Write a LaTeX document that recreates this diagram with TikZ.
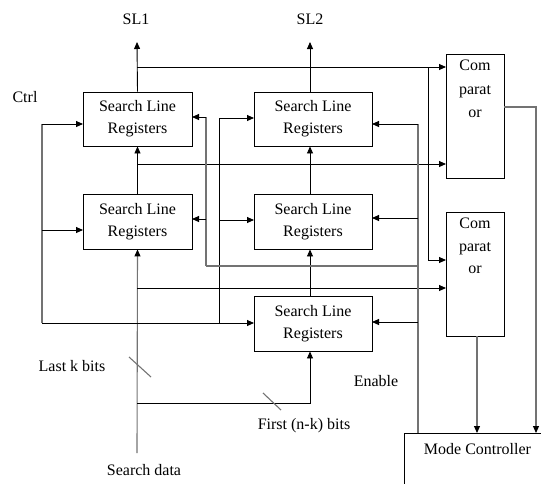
\documentclass[tikz,border=0pt]{standalone}
\usepackage{fontspec}
\setmainfont{Liberation Serif}
\usetikzlibrary{arrows.meta}
\begin{document}
\begin{tikzpicture}[x=1pt,y=-1pt,
  font=\fontsize{16}{22}\selectfont,
  reg/.style={draw,line width=0.9pt,minimum height=54pt,align=center,inner sep=0pt},
  cmpbox/.style={draw,line width=0.9pt,minimum width=58pt,minimum height=124pt,inner sep=0pt},
  ln/.style={line width=0.9pt},
  gln/.style={line width=1.1pt,black!55},
  arr/.style={line width=0.9pt,-{Triangle[length=7pt,width=6pt]}},
  garr/.style={line width=1.1pt,black!55,-{Triangle[length=7pt,width=6pt,fill=black,color=black]}},
  lbl/.style={inner sep=0pt}]
\useasboundingbox (0,0) rectangle (541,483);

% registers
\node[reg,minimum width=109pt] (r1) at (137.5,119) {Search Line\\Registers};
\node[reg,minimum width=118pt] (r2) at (313,119) {Search Line\\Registers};
\node[reg,minimum width=109pt,minimum height=55pt] (r3) at (137.5,221.5) {Search Line\\Registers};
\node[reg,minimum width=118pt,minimum height=55pt] (r4) at (313,221.5) {Search Line\\Registers};
\node[reg,minimum width=118pt,minimum height=55pt] (r5) at (313,323.5) {Search Line\\Registers};

% comparators
\node[cmpbox,anchor=north west] (c1) at (446,54) {};
\node[cmpbox,anchor=north west] (c2) at (446,212) {};
\node[lbl,align=center,anchor=north,font=\fontsize{16}{23.5}\selectfont] (c1t) at (475,60) {Com\\parat\\or};
\node[lbl,align=center,anchor=north,font=\fontsize{16}{22.5}\selectfont] (c2t) at (475,218) {Com\\parat\\or};

% mode controller (runs off the page)
\node[draw,line width=0.9pt,anchor=north west,minimum width=160pt,minimum height=70pt] (mc) at (404,433) {};
\node[lbl] (mct) at (477.5,449) {Mode Controller};

% labels
\node[lbl] (sl1) at (136,19) {SL1};
\node[lbl] (sl2) at (310,19) {SL2};
\node[lbl] (ctrl) at (25,97) {Ctrl};
\node[lbl] (lastk) at (72,366) {Last k bits};
\node[lbl] (first) at (304,426) {First (n-k) bits};
\node[lbl] (enable) at (376,381) {Enable};
\node[lbl] (sdata) at (144,470) {Search data};

% coordinates
\coordinate (t1) at (137,42);
\coordinate (t2) at (310,42);
\coordinate (j1) at (137,67);
\coordinate (k1) at (428,67);
\coordinate (k2) at (446,260);
\coordinate (s0) at (137,453);

% SL outputs
\draw[arr] (r1.north) -- (t1);
\draw[arr] (r2.north -| t2) -- (t2);
\draw[arr] (j1) -- (j1 -| c1.west);
\draw[arr] (k1) |- (k2);

% vertical chains
\draw[arr] (r3.north) -- (r1.south);
\draw[arr] (137,164) -- (446,164);
\draw[arr] (r4.north -| t2) -- (r2.south -| t2);
\draw[arr] (r5.north -| t2) -- (r4.south -| t2);

% search data
\draw[garr] (s0) -- (r3.south);
\draw[arr] (137,288) -- (446,288);
\draw[arr] (137,403) -| (r5.south -| t2);

% ctrl
\draw[gln] (42,323) -- (42,124);
\draw[arr] (42,124) -- (83,124);
\draw[arr] (42,230) -- (83,230);
\draw[arr] (42,323) -- (254,323);

% x=219
\draw[ln] (219,323) -- (219,118);
\draw[arr] (219,118) -- (254,118);
\draw[arr] (219,220) -- (254,220);

% x=206
\draw[gln] (206,266) -- (206,117);
\draw[arr] (206,117) -- (192,117);
\draw[arr] (206,219) -- (192,219);
\draw[gln] (206,266) -- (418,266);

% enable line x=418
\draw[gln] (418,433) -- (418,124);
\draw[arr] (418,124) -- (372,124);
\draw[arr] (418,218) -- (372,218);
\draw[arr] (418,322) -- (372,322);

% comparator outputs
\draw[garr] (504,107) -| (536,433);
\draw[garr] (477,336) -- (477,433);

% bus slashes
\draw[gln] (129,357) -- (151,377);
\draw[gln] (263,393) -- (281,410);
\end{tikzpicture}
\end{document}
